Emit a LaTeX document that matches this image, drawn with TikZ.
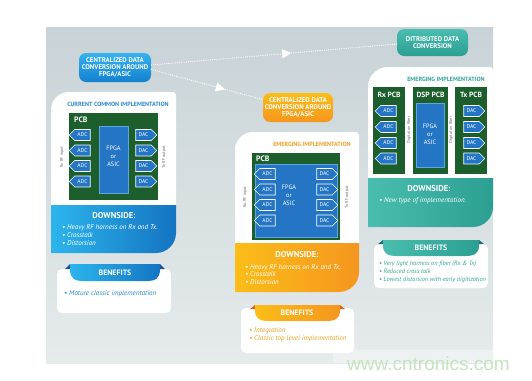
\documentclass[tikz,border=0pt]{standalone}
\usepackage{fontspec}
\setmainfont{PT Sans}
\newfontfamily\wmfont{Liberation Sans}
\usetikzlibrary{shapes.symbols,arrows.meta,decorations.markings}
\definecolor{panelT}{HTML}{C8D3D7}
\definecolor{panelB}{HTML}{E6EBEC}
\definecolor{blueL}{HTML}{2CB5EC}
\definecolor{blueD}{HTML}{1474C2}
\definecolor{bluetxt}{HTML}{2B8BD0}
\definecolor{bluefold}{HTML}{1A4E9A}
\definecolor{pillBT}{HTML}{36B2F0}
\definecolor{pillBB}{HTML}{1381CF}
\definecolor{orL}{HTML}{FBBD18}
\definecolor{orD}{HTML}{F5961F}
\definecolor{ortxt}{HTML}{EFA224}
\definecolor{orfold}{HTML}{D9641A}
\definecolor{tlL}{HTML}{49BDAE}
\definecolor{tlD}{HTML}{2C9F93}
\definecolor{tltxt}{HTML}{35A597}
\definecolor{tlfold}{HTML}{1E6E78}
\definecolor{pcbgreen}{HTML}{1C5F2C}
\definecolor{chip}{HTML}{2476C4}
\definecolor{chipedge}{HTML}{5DA6E2}
\definecolor{rotgray}{HTML}{6A6A6A}
\definecolor{wmgreen}{HTML}{C3E4BC}
\newcommand\fsz[1]{\fontsize{#1}{#1}\selectfont}
\newcommand\tpanel[5]{(#1,#4) -- (#1,#2+#5) .. controls (#1,#2+0.45*#5) and (#1+0.45*#5,#2) .. (#1+#5,#2) -- (#3-3,#2) .. controls (#3-1.4,#2) and (#3,#2+1.4) .. (#3,#2+3) -- (#3,#4) -- cycle}
\newcommand\dpanel[5]{(#1,#2) -- (#3,#2) -- (#3,#4-#5) .. controls (#3,#4-0.45*#5) and (#3-0.45*#5,#4) .. (#3-#5,#4) -- (#1,#4) -- cycle}
\newcommand\tabshape[4]{(#1,#3) -- (#1,#3+5) .. controls (#1,#4-2) and (#1+5,#4) .. (#1+14,#4) -- (#2-14,#4) .. controls (#2-5,#4) and (#2,#4-2) .. (#2,#3+5) -- (#2,#3) -- cycle}
\begin{document}
\begin{tikzpicture}[x=1pt,y=-1pt,
  adc/.style={shape=signal, signal to=west, draw=white, line width=0.6pt, fill=chip, text=white, minimum width=21pt, minimum height=11pt, inner sep=0pt, font=\fsz{5.6}},
  dac/.style={adc, signal to=east},
  hdr/.style={font=\bfseries\fsz{6.1}},
  pcblbl/.style={anchor=west, text=white, font=\bfseries\fsz{7.8}, inner sep=0pt},
  chiptxt/.style={align=center, text=white, font=\fontsize{6.3}{8}\selectfont, inner sep=0pt},
  rot/.style={rotate=90, font=\fsz{4.2}, text=rotgray, inner sep=0pt},
  dtitle/.style={text=white, font=\bfseries\fsz{8.5}, inner sep=0pt},
  btitle/.style={text=white, font=\bfseries\fsz{7.8}, inner sep=0pt},
  bul/.style={anchor=west, align=left, text=white, font=\itshape\fontsize{7}{8}\selectfont, inner sep=0pt},
  pill/.style={rounded corners=7pt, align=center, text=white, font=\bfseries\fontsize{6.8}{7}\selectfont, inner sep=0pt},
  dots/.style={white, line width=1.2pt, dash pattern=on 0pt off 2.2pt, line cap=round},
  midarrow/.style={postaction={decorate}, decoration={markings, mark=at position #1 with {\arrow[white, solid, line width=0.4pt]{Triangle[length=9pt,width=9pt]}}}}
]
\useasboundingbox (0,0) rectangle (532,380);
% background
\shade[top color=panelT, bottom color=panelB] (46,27) rectangle (493,363);
\fill[white, opacity=0.35] (333,350) rectangle (493,363);

% pills
\node[pill, top color=pillBT, bottom color=pillBB, minimum width=72pt, minimum height=29pt] (cpill) at (115,67.5) {CENTRALIZED DATA\\CONVERSION AROUND\\FPGA/ASIC};
\node[pill, top color=orL, bottom color=orD, minimum width=70pt, minimum height=29pt] (opill) at (298,107.5) {CENTRALIZED DATA\\CONVERSION AROUND\\FPGA/ASIC};
\node[pill, top color=tlL, bottom color=tlD, minimum width=71pt, minimum height=27pt] (tpill) at (432.5,42.5) {DITRIBUTED DATA\\CONVERSION};
\draw[dots, midarrow=0.57] ([yshift=2.5pt]cpill.east) -- ([yshift=-1.5pt]tpill.west);
\draw[dots, midarrow=0.66] ([yshift=-2pt]cpill.east) -- ([yshift=8pt]opill.west);

% ===== left column =====
\fill[white] \tpanel{51}{92}{176}{205}{18};
\shade[left color=blueL, right color=blueD] \dpanel{51}{205}{176}{253}{20};
\node[hdr, text=bluetxt] (lhdr) at (118,104) {CURRENT COMMON IMPLEMENTATION};
\fill[pcbgreen] (69,113) rectangle (158,200);
\node[pcblbl] (lpcb) at (74,119.5) {PCB};
\node[fill=chip, draw=chipedge, line width=0.6pt, minimum width=29pt, minimum height=67pt, inner sep=0pt] (lfpga) at (113.5,159.5) {};
\node[chiptxt] (lfpgat) at (113.5,156) {FPGA\\or\\ASIC};
\node[adc] (la1) at (82.5,135) {ADC};
\node[adc] (la2) at (82.5,150.5) {ADC};
\node[adc] (la3) at (82.5,166) {ADC};
\node[adc] (la4) at (82.5,181.5) {ADC};
\node[dac] (ld1) at (143.5,135) {DAC};
\node[dac] (ld2) at (143.5,150.5) {DAC};
\node[dac] (ld3) at (143.5,166) {DAC};
\node[dac] (ld4) at (143.5,181.5) {DAC};
\node[rot] (lrx) at (62,157) {Rx RF input};
\node[rot] (ltx) at (164,157) {Tx RF output};
\node[dtitle] (ldt) at (114,216) {DOWNSIDE:};
\node[bul] (ldb) at (62,235) {• Heavy RF harness on Rx and Tx.\\• Crosstalk\\• Distorsion};
\fill[white, rounded corners=5pt] (57,269) rectangle (171,313);
\fill[bluefold] (65,269) -- (70,264) -- (70,269) -- cycle;
\fill[bluefold] (165,269) -- (160,264) -- (160,269) -- cycle;
\shade[left color=blueL, right color=blueD] \tabshape{70}{160}{264}{281};
\node[btitle] (lbt) at (115,272.5) {BENEFITS};
\node[bul, text=bluetxt] (lbb) at (64,294) {• Mature classic implementation};

% ===== middle column =====
\fill[white] \tpanel{235}{132}{359}{243}{18};
\shade[left color=orL, right color=orD] \dpanel{235}{243}{359}{292}{20};
\node[hdr, text=ortxt] (mhdr) at (312,144) {EMERGING IMPLEMENTATION};
\fill[pcbgreen] (252,153) rectangle (340,240);
\node[pcblbl] (mpcb) at (256,158.5) {PCB};
\node[fill=chip, draw=chipedge, line width=0.6pt, minimum width=82pt, minimum height=73pt, inner sep=0pt] (mfpga) at (296,200.5) {};
\node[chiptxt] (mfpgat) at (289,195) {FPGA\\or\\ASIC};
\node[adc] (ma1) at (267.5,174) {ADC};
\node[adc] (ma2) at (267.5,189.5) {ADC};
\node[adc] (ma3) at (267.5,205) {ADC};
\node[adc] (ma4) at (267.5,220.5) {ADC};
\node[dac] (md1) at (324.5,174) {DAC};
\node[dac] (md2) at (324.5,189.5) {DAC};
\node[dac] (md3) at (324.5,205) {DAC};
\node[dac] (md4) at (324.5,220.5) {DAC};
\node[rot] (mrx) at (245,197) {Rx RF input};
\node[rot] (mtx) at (347,197) {Tx RF output};
\node[dtitle] (mdt) at (297,255) {DOWNSIDE:};
\node[bul, font=\itshape\fontsize{7}{7.5}\selectfont] (mdb) at (245,274.5) {• Heavy RF harness on Rx and Tx.\\• Crosstalk\\• Distorsion};
\fill[white, rounded corners=5pt] (241,308) rectangle (354,353);
\fill[orfold] (250,309) -- (255,305) -- (255,309) -- cycle;
\fill[orfold] (345,309) -- (340,305) -- (340,309) -- cycle;
\shade[left color=orL, right color=orD] \tabshape{255}{340}{305}{321};
\node[btitle] (mbt) at (297,313) {BENEFITS};
\node[bul, text=ortxt] (mbb) at (249,335) {• Integration\\• Classic top level implementation};

% ===== right column =====
\fill[white] \tpanel{368}{67}{493}{178}{20};
\shade[left color=tlL, right color=tlD] \dpanel{368}{178}{493}{227}{20};
\node[hdr, text=tltxt] (rhdr) at (446,79) {EMERGING IMPLEMENTATION};
\fill[pcbgreen] (373,87) rectangle (405,174);
\fill[pcbgreen] (413,87) rectangle (448,174);
\fill[pcbgreen] (455,87) rectangle (487,174);
\node[text=white, font=\bfseries\fsz{7.5}] (rxl) at (389,94.5) {Rx PCB};
\node[text=white, font=\bfseries\fsz{7.5}] (dspl) at (430.5,94.5) {DSP PCB};
\node[text=white, font=\bfseries\fsz{7.5}] (txl) at (471,94.5) {Tx PCB};
\node[fill=chip, draw=chipedge, line width=0.6pt, minimum width=28pt, minimum height=64pt, inner sep=0pt] (rfpga) at (430,135) {};
\node[chiptxt] (rfpgat) at (430,134) {FPGA\\or\\ASIC};
\node[adc] (ra1) at (388.5,111) {ADC};
\node[adc] (ra2) at (388.5,127) {ADC};
\node[adc] (ra3) at (388.5,143) {ADC};
\node[adc] (ra4) at (388.5,158.5) {ADC};
\node[dac] (rd1) at (471.5,111) {DAC};
\node[dac] (rd2) at (471.5,127) {DAC};
\node[dac] (rd3) at (471.5,143) {DAC};
\node[dac] (rd4) at (471.5,158.5) {DAC};
\node[rot] (rf1) at (409,130) {Digital on fiber};
\node[rot] (rf2) at (451,130) {Digital on fiber};
\node[dtitle] (rdt) at (429,189) {DOWNSIDE:};
\node[bul] (rdb) at (379,201) {• New type of implementation.};
\fill[white, rounded corners=5pt] (374,244) rectangle (488,288);
\fill[tlfold] (378,244) -- (383,240) -- (383,244) -- cycle;
\fill[tlfold] (484,244) -- (479,240) -- (479,244) -- cycle;
\shade[left color=tlL, right color=tlD] \tabshape{383}{479}{240}{256};
\node[btitle] (rbt) at (431,248) {BENEFITS};
\node[bul, text=tltxt, font=\itshape\fontsize{6.3}{8}\selectfont] (rbb) at (379,272) {• Very light harness on fiber (Rx \& Tx)\\• Reduced cross talk\\• Lowest distorsion with early digitization};

% watermark
\node[anchor=west, inner sep=0pt, text=wmgreen, font=\wmfont\fsz{19}] (wm) at (347,364) {www.cntronics.com};
\end{tikzpicture}
\end{document}
